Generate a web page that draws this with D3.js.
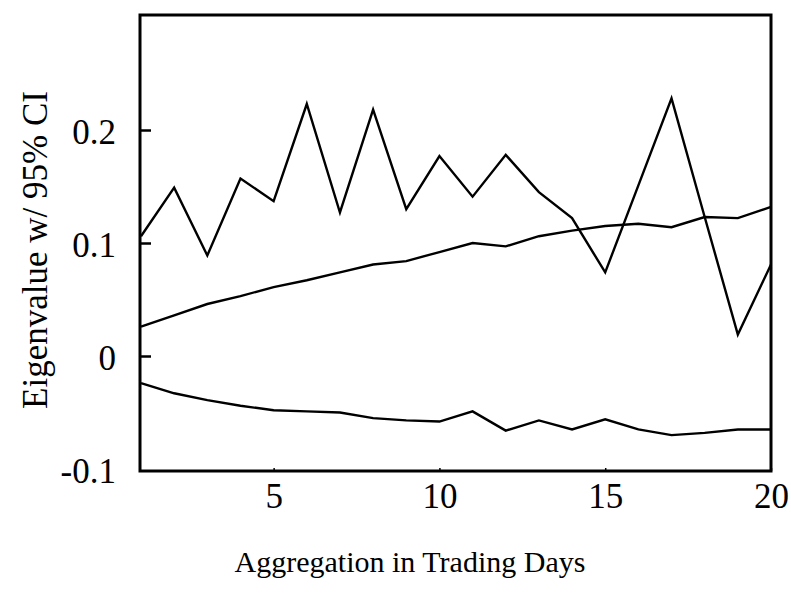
<!DOCTYPE html>
<html>
<head>
    <meta charset="utf-8">
    <script src="https://d3js.org/d3.v7.min.js"></script>
    <style>
        body { margin: 0; background: #fff; }
        text { font-family: "Liberation Serif", "Times New Roman", serif; fill: #000; }
    </style>
</head>
<body>
<script>
    // aggregation horizon in trading days
    var days = [1, 2, 3, 4, 5, 6, 7, 8, 9, 10, 11, 12, 13, 14, 15, 16, 17, 18, 19, 20];

    // upper 95% bound, point estimate, lower 95% bound
    var upper = [0.106, 0.149, 0.089, 0.157, 0.137, 0.223, 0.127, 0.218, 0.130, 0.177,
                 0.141, 0.178, 0.145, 0.122, 0.074, 0.151, 0.228, 0.123, 0.019, 0.081];
    var estimate = [0.026, 0.036, 0.046, 0.053, 0.061, 0.067, 0.074, 0.081, 0.084, 0.092,
                    0.100, 0.097, 0.106, 0.111, 0.115, 0.117, 0.114, 0.123, 0.122, 0.132];
    var lower = [-0.024, -0.033, -0.039, -0.044, -0.048, -0.049, -0.050, -0.055, -0.057, -0.058,
                 -0.049, -0.066, -0.057, -0.065, -0.056, -0.065, -0.070, -0.068, -0.065, -0.065];

    var xTicks = [5, 10, 15, 20];
    var yTicks = [-0.1, 0, 0.1, 0.2];
    var yTickLabels = ["-0.1", "0", "0.1", "0.2"];

    var width = 791,
        height = 596;

    var x = d3.scaleLinear().domain([1, 20]).range([141, 771]);
    var y = d3.scaleLinear().domain([-0.1, 0.3]).range([469, 17]);

    var svg = d3.select("body").append("svg")
        .attr("width", width)
        .attr("height", height);

    var line = d3.line()
        .x(function(d, i) { return x(days[i]); })
        .y(function(d) { return y(d); });

    svg.append("g").selectAll("path")
      .data([upper, estimate, lower])
      .enter().append("path")
        .attr("d", line)
        .style("fill", "none")
        .style("stroke", "#000")
        .style("stroke-width", 2.4)
        .style("stroke-linejoin", "miter");

    // y axis: inward ticks (the -0.1 one sits on the frame), labels drawn separately
    var yAxis = svg.append("g")
        .attr("transform", "translate(" + x(1) + ",0)")
        .call(d3.axisRight(y).tickValues(yTicks.slice(1)).tickSize(10).tickFormat(""));
    yAxis.select(".domain").remove();
    yAxis.selectAll("line").style("stroke-width", 2.5);

    svg.append("g").selectAll("text")
      .data(yTicks)
      .enter().append("text")
        .attr("x", 116)
        .attr("y", function(d) { return y(d) + 14; })
        .attr("text-anchor", "end")
        .style("font-size", "35px")
        .text(function(d, i) { return yTickLabels[i]; });

    // x axis: tiny inward ticks, labels below
    var xAxis = svg.append("g")
        .attr("transform", "translate(0," + 471 + ")")
        .call(d3.axisTop(x).tickValues(xTicks).tickSize(3).tickPadding(-40));
    xAxis.select(".domain").remove();
    xAxis.selectAll("line").style("stroke-width", 1.5);
    xAxis.selectAll("text")
        .style("font-size", "35px")
        .attr("dy", 0);

    // frame
    svg.append("rect")
        .attr("x", 140)
        .attr("y", 15)
        .attr("width", 631)
        .attr("height", 456)
        .style("fill", "none")
        .style("stroke", "#000")
        .style("stroke-width", 3);

    svg.append("text")
        .attr("x", 410)
        .attr("y", 572)
        .attr("text-anchor", "middle")
        .style("font-size", "30px")
        .text("Aggregation in Trading Days");

    svg.append("text")
        .attr("transform", "translate(47,250) rotate(-90)")
        .attr("text-anchor", "middle")
        .style("font-size", "35px")
        .text("Eigenvalue w/ 95% CI");
</script>
</body>
</html>
